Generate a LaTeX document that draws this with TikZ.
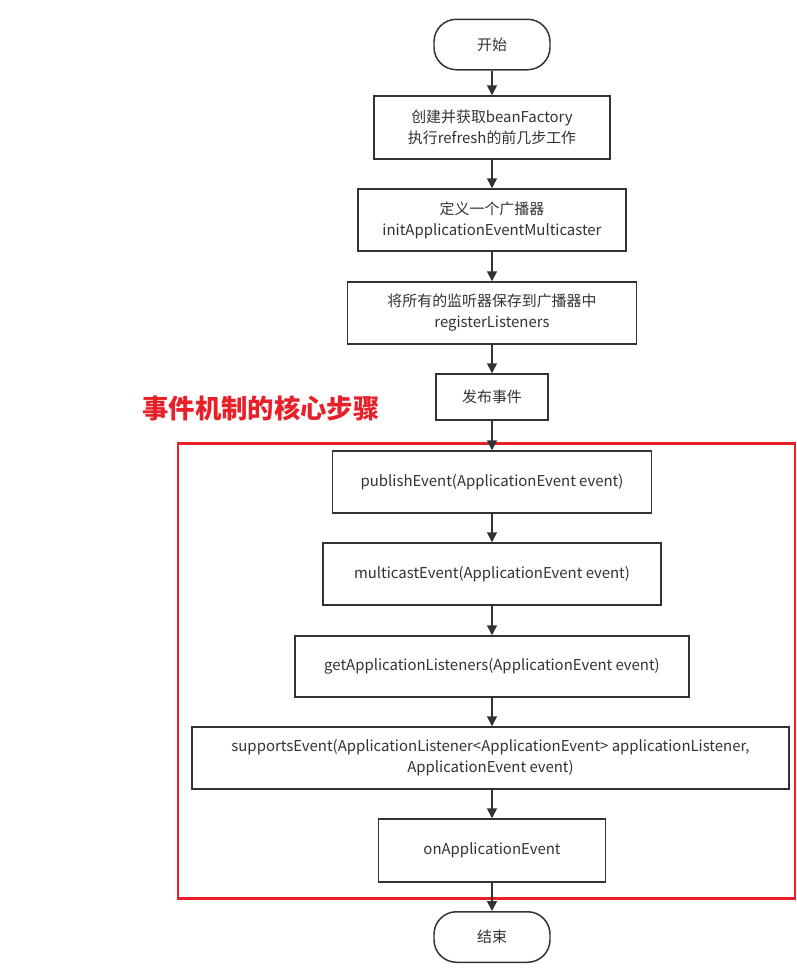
\documentclass[tikz,border=0pt]{standalone}
\usepackage{fontspec}
\setmainfont{Noto Sans CJK SC}
\usepackage{tikz}
\usetikzlibrary{arrows.meta}

\definecolor{boxline}{HTML}{333333}
\definecolor{markred}{HTML}{E8202A}

\begin{document}
\begin{tikzpicture}[
    stepbox/.style={draw=boxline, line width=0.85pt, fill=white, text=boxline, font=\fontsize{8.5}{12}\selectfont, align=center, inner sep=0pt},
    termbox/.style={stepbox, rounded corners=0.45cm, minimum width=2.32cm, minimum height=1.01cm},
    arr/.style={draw=boxline, line width=0.85pt, -{Triangle[length=0.2cm, width=0.2cm]}}]

  \useasboundingbox (0,0) rectangle (15.92,-19.5);

  % frame of the core steps
  \draw[markred, line width=1.7pt] (3.56,-8.86) rectangle (15.9,-17.96);
  \node[text=markred, font=\fontsize{15}{18}\selectfont\bfseries] (title) at (5.22,-8.16) {事件机制的核心步骤};

  \node[termbox] (start) at (9.84,-0.89) {开始};
  \node[stepbox, minimum width=4.72cm, minimum height=1.26cm] (create) at (9.84,-2.55) {创建并获取beanFactory\\执行refresh的前几步工作};
  \node[stepbox, minimum width=5.36cm, minimum height=1.24cm] (define) at (9.84,-4.40) {定义一个广播器\\initApplicationEventMulticaster};
  \node[stepbox, minimum width=5.78cm, minimum height=1.24cm] (register) at (9.84,-6.26) {将所有的监听器保存到广播器中\\registerListeners};
  \node[stepbox, minimum width=2.24cm, minimum height=0.92cm] (publish) at (9.84,-7.94) {发布事件};

  \node[stepbox, minimum width=6.38cm, minimum height=1.24cm] (pubevent) at (9.84,-9.64) {publishEvent(ApplicationEvent event)};
  \node[stepbox, minimum width=6.76cm, minimum height=1.24cm] (multicast) at (9.84,-11.48) {multicastEvent(ApplicationEvent event)};
  \node[stepbox, minimum width=7.88cm, minimum height=1.22cm] (getlisteners) at (9.84,-13.33) {getApplicationListeners(ApplicationEvent event)};
  \node[stepbox, minimum width=11.94cm, minimum height=1.24cm] (supports) at (9.81,-15.16) {supportsEvent(ApplicationListener<ApplicationEvent> applicationListener,\\ApplicationEvent event)};
  \node[stepbox, minimum width=4.54cm, minimum height=1.26cm] (onevent) at (9.84,-17.01) {onApplicationEvent};
  \node[termbox] (end) at (9.84,-18.74) {结束};

  \draw[arr] (start) -- (create);
  \draw[arr] (create) -- (define);
  \draw[arr] (define) -- (register);
  \draw[arr] (register) -- (publish);
  \draw[arr] (publish) -- (pubevent);
  \draw[arr] (pubevent) -- (multicast);
  \draw[arr] (multicast) -- (getlisteners);
  \draw[arr] (getlisteners) -- (supports.north -| getlisteners);
  \draw[arr] (supports.south -| onevent) -- (onevent);
  \draw[arr] (onevent) -- (end);

\end{tikzpicture}
\end{document}
